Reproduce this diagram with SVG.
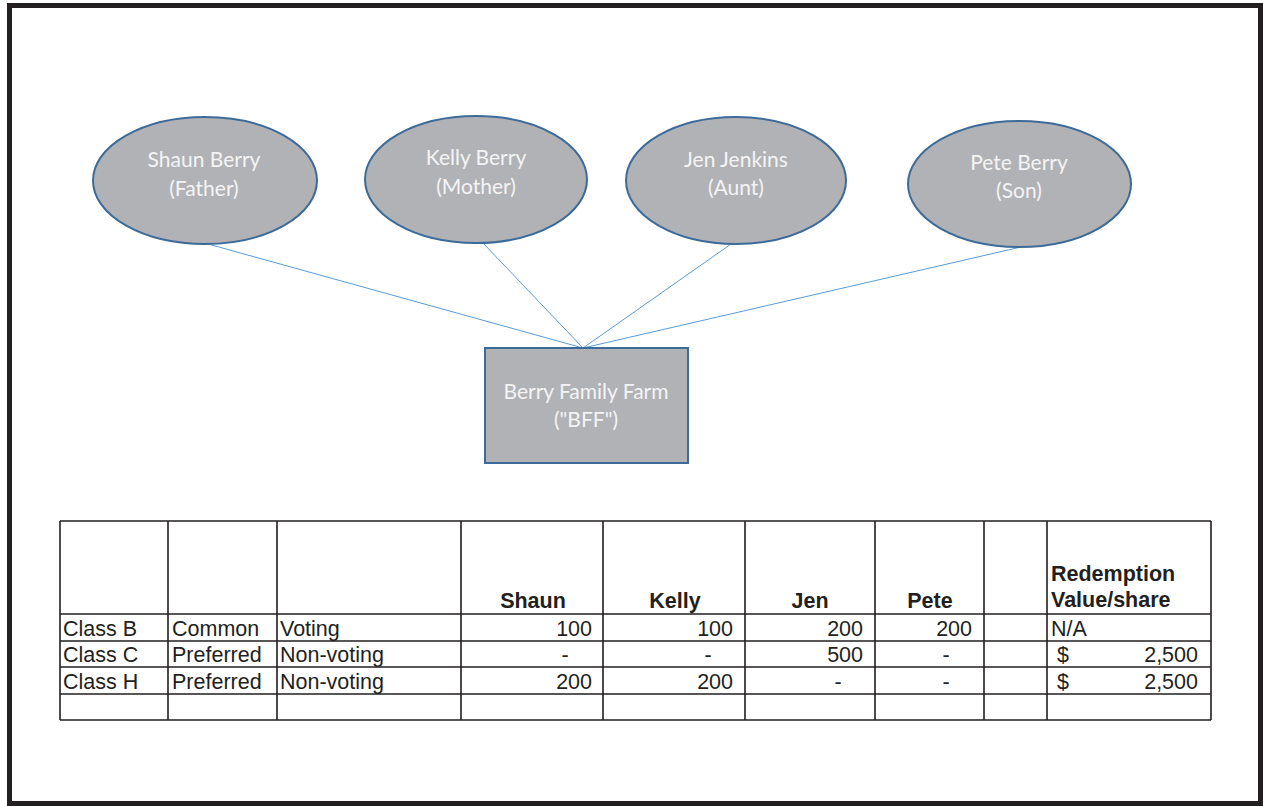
<svg xmlns="http://www.w3.org/2000/svg" width="1263" height="806" viewBox="0 0 1263 806">
<style>
.node{fill:#b1b2b6;stroke:#3d6b99;stroke-width:2}
.nt{font-family:Lato,"Open Sans","Noto Sans",sans-serif;font-size:21px;fill:#f4f4f4;text-anchor:middle}
.conn{stroke:#5b9bd5;stroke-width:1;fill:none}
.grid{stroke:#231f20;stroke-width:1.6;fill:none}
.t{font-family:"Liberation Sans",Arial,sans-serif;font-size:21.5px;fill:#231f20}
.b{font-weight:bold}
.r{text-anchor:end}
.m{text-anchor:middle}
</style>
<rect x="0" y="0" width="1263" height="806" fill="#ffffff"/>
<rect x="9.5" y="5.5" width="1251" height="798" fill="none" stroke="#231f20" stroke-width="5"/>
<g id="connectors">
<line class="conn" x1="208" y1="244" x2="583" y2="348"/>
<line class="conn" x1="483" y1="243" x2="583" y2="348"/>
<line class="conn" x1="731" y1="244" x2="583" y2="348"/>
<line class="conn" x1="1021" y1="247" x2="583" y2="348"/>
</g>
<g id="shaun">
<ellipse class="node" cx="205" cy="180.5" rx="112" ry="63.5"/>
<text class="nt" x="204" y="167">Shaun Berry</text>
<text class="nt" x="204" y="196">(Father)</text>
</g>
<g id="kelly">
<ellipse class="node" cx="476" cy="179.5" rx="111" ry="63.5"/>
<text class="nt" x="476" y="165">Kelly Berry</text>
<text class="nt" x="476" y="194">(Mother)</text>
</g>
<g id="jen">
<ellipse class="node" cx="736" cy="180.5" rx="110" ry="63.5"/>
<text class="nt" x="736" y="167">Jen Jenkins</text>
<text class="nt" x="736" y="195">(Aunt)</text>
</g>
<g id="pete">
<ellipse class="node" cx="1019.5" cy="184" rx="111.5" ry="63"/>
<text class="nt" x="1019" y="170">Pete Berry</text>
<text class="nt" x="1019" y="198">(Son)</text>
</g>
<g id="bff">
<rect class="node" x="485" y="348" width="203" height="115"/>
<text class="nt" x="586" y="399">Berry Family Farm</text>
<text class="nt" x="586" y="427">("BFF")</text>
</g>
<g id="table">
<path class="grid" d="M60 521H1211M60 614H1211M60 641H1211M60 667H1211M60 694H1211M60 720H1211"/>
<path class="grid" d="M60 521V720M168 521V720M277 521V720M461 521V720M603 521V720M745 521V720M875 521V720M984 521V720M1047 521V720M1211 521V720"/>
<text class="t b m" x="533" y="608">Shaun</text>
<text class="t b m" x="675" y="608">Kelly</text>
<text class="t b m" x="810" y="608">Jen</text>
<text class="t b m" x="930" y="608">Pete</text>
<text class="t b" x="1051" y="581">Redemption</text>
<text class="t b" x="1051" y="607">Value/share</text>
<text class="t" x="63" y="636">Class B</text>
<text class="t" x="172" y="636">Common</text>
<text class="t" x="280" y="636">Voting</text>
<text class="t r" x="592" y="636">100</text>
<text class="t r" x="733" y="636">100</text>
<text class="t r" x="863" y="636">200</text>
<text class="t r" x="972" y="636">200</text>
<text class="t" x="1051" y="636">N/A</text>
<text class="t" x="63" y="662">Class C</text>
<text class="t" x="172" y="662">Preferred</text>
<text class="t" x="280" y="662">Non-voting</text>
<text class="t m" x="565" y="662">-</text>
<text class="t m" x="708" y="662">-</text>
<text class="t r" x="863" y="662">500</text>
<text class="t m" x="946" y="662">-</text>
<text class="t" x="1057" y="662">$</text>
<text class="t r" x="1198" y="662">2,500</text>
<text class="t" x="63" y="689">Class H</text>
<text class="t" x="172" y="689">Preferred</text>
<text class="t" x="280" y="689">Non-voting</text>
<text class="t r" x="592" y="689">200</text>
<text class="t r" x="733" y="689">200</text>
<text class="t m" x="838" y="689">-</text>
<text class="t m" x="946" y="689">-</text>
<text class="t" x="1057" y="689">$</text>
<text class="t r" x="1198" y="689">2,500</text>
</g>
</svg>
